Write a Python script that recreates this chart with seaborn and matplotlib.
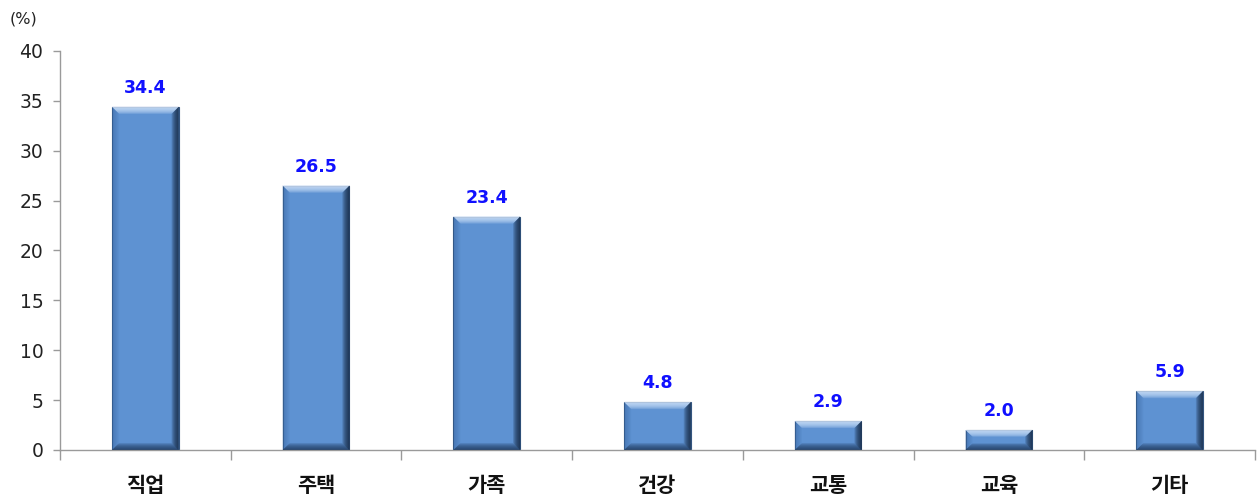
import matplotlib
matplotlib.use("Agg")
import matplotlib.pyplot as plt
from matplotlib.patches import Polygon
import seaborn as sns
import pandas as pd

categories = ["직업", "주택", "가족", "건강", "교통", "교육", "기타"]
values = [34.4, 26.5, 23.4, 4.8, 2.9, 2.0, 5.9]
y_ticks = [0, 5, 10, 15, 20, 25, 30, 35, 40]

sns.set_theme(style="white")
plt.rcParams["font.family"] = ["DejaVu Sans", "Noto Sans CJK KR"]

df = pd.DataFrame({"category": categories, "value": values})

fig = plt.figure(figsize=(12.58, 4.97), dpi=100)
ax = fig.add_axes([0.0477, 0.0946, 0.9499, 0.8028])

sns.barplot(data=df, x="category", y="value", color="#5E92D2", saturation=1,
            width=0.39, edgecolor="#34557F", linewidth=0.8, ax=ax)

# Soft bevel on each bar, layered from the drawn patch geometry
px_x = 7 / 1195.0   # data units per pixel along x
px_y = 40 / 399.0   # data units per pixel along y
bevel_px = 7
for bar in ax.patches:
    x0, w, h = bar.get_x(), bar.get_width(), bar.get_height()
    x1 = x0 + w
    for k in range(bevel_px, 0, -1):
        bx = k * px_x
        by = min(k * px_y, h / 3)
        top = Polygon([(x0, h), (x1, h), (x1 - bx, h - by), (x0 + bx, h - by)],
                      closed=True, facecolor="#D2E4FA", alpha=0.22,
                      edgecolor="none", zorder=3)
        bottom = Polygon([(x0, 0), (x1, 0), (x1 - bx, by), (x0 + bx, by)],
                         closed=True, facecolor="#1C3354", alpha=0.17,
                         edgecolor="none", zorder=3)
        left = Polygon([(x0, 0), (x0, h), (x0 + bx, h - by), (x0 + bx, by)],
                       closed=True, facecolor="#3E6BA6", alpha=0.10,
                       edgecolor="none", zorder=3)
        right = Polygon([(x1, 0), (x1, h), (x1 - bx, h - by), (x1 - bx, by)],
                        closed=True, facecolor="#13263F", alpha=0.20,
                        edgecolor="none", zorder=3)
        for p in (top, bottom, left, right):
            ax.add_patch(p)

for bar, v in zip(ax.patches[:len(values)], values):
    ax.annotate(f"{v:.1f}", (bar.get_x() + bar.get_width() / 2, bar.get_height()),
                xytext=(0, 7), textcoords="offset points", ha="center", va="bottom",
                color="#1010FF", fontsize=12.5, fontweight="bold")

ax.set_xlim(-0.5, len(categories) - 0.5)
ax.set_ylim(0, 40)
ax.set_yticks(y_ticks)
ax.set_xlabel("")
ax.set_ylabel("")

# Category labels centred, tick marks at category boundaries
ax.set_xticks([i - 0.5 for i in range(len(categories) + 1)])
ax.set_xticklabels([])
ax.set_xticks(range(len(categories)), minor=True)
ax.set_xticklabels(categories, minor=True, fontsize=15, fontweight="bold",
                   family=["Noto Sans CJK KR"], color="#111111")
ax.tick_params(axis="x", which="major", direction="out", length=7, width=1,
               color="#9A9A9A", bottom=True)
ax.tick_params(axis="x", which="minor", length=0, pad=18)
ax.tick_params(axis="y", direction="out", length=5, width=1, color="#9A9A9A",
               left=True, pad=7, labelsize=13.5, labelcolor="#222222")

for side in ("top", "right"):
    ax.spines[side].set_visible(False)
for side in ("left", "bottom"):
    ax.spines[side].set_color("#9A9A9A")
    ax.spines[side].set_linewidth(1)

fig.text(0.008, 0.962, "(%)", fontsize=11.5, color="#222222", ha="left", va="center")

fig.savefig("out.png", dpi=100)
